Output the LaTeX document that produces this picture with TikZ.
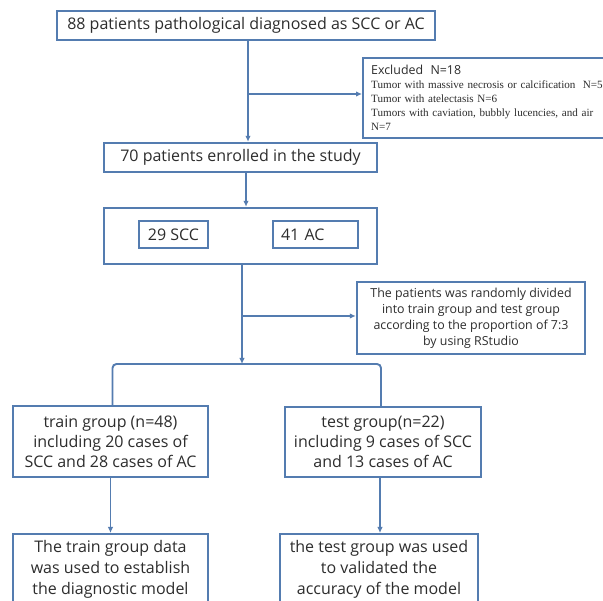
\documentclass[tikz,border=0pt]{standalone}
\usepackage{fontspec}
\setmainfont{Open Sans}
\newfontfamily\tnr{Liberation Serif}
\usetikzlibrary{arrows.meta}
\definecolor{bl}{RGB}{84,124,176}
\definecolor{tx}{RGB}{45,45,45}
\begin{document}
\begin{tikzpicture}[x=1pt,y=-1pt,
  box/.style={draw=bl, line width=2.4pt, inner sep=0pt, text=tx, align=center,
              font=\fontsize{16}{20}\selectfont},
  ibox/.style={draw=bl, line width=1.3pt, inner sep=0pt, text=tx,
              font=\fontsize{16}{20}\selectfont},
  link/.style={draw=bl, line width=1.9pt},
  arr/.style={link, -{Latex[length=6pt,width=5.5pt]}}]
\clip (0,0) rectangle (603,601);
\fill[white] (0,0) rectangle (603,601);

\node[box, minimum width=378pt, minimum height=29pt] (top) at (246,25.5)
  {88 patients pathological diagnosed as SCC or AC};

\node[box, minimum width=258pt, minimum height=80pt, anchor=north west,
      text width=242pt, inner xsep=8pt, align=left,
      font=\tnr\fontsize{11.1}{14}\selectfont] (excl) at (362,57)
  {{\rmfamily\fontsize{12.4}{14}\selectfont Excluded~~N=18}\\
   Tumor with massive necrosis or calcification~~N=5\\
   Tumor with atelectasis N=6\\
   Tumors with caviation, bubbly lucencies, and air\\
   N=7};

\node[box, minimum width=273pt, minimum height=29pt] (enrolled) at (240.5,157.5)
  {70 patients enrolled in the study};

\node[box, minimum width=273pt, minimum height=56pt] (group) at (240.5,236) {};
\node[ibox, minimum width=69pt, minimum height=27pt] (scc) at (173.5,234.5) {29 SCC};
\node[ibox, minimum width=85pt, minimum height=27pt, text width=69pt,
      inner xsep=8pt, align=left] (ac) at (315.5,234.5) {41 AC};

\node[box, minimum width=228pt, minimum height=72pt,
      font=\fontsize{12.4}{16}\selectfont] (random) at (471,318)
  {The patients was randomly divided\\
   into train group and test group\\
   according to the proportion of 7:3\\
   by using RStudio};

\node[box, minimum width=195pt, minimum height=71pt] (train) at (110.5,441.5)
  {train group (n=48)\\ including 20 cases of\\ SCC and 28 cases of AC};
\node[box, minimum width=196pt, minimum height=70pt] (test) at (383,442)
  {test group(n=22)\\ including 9 cases of SCC\\ and 13 cases of AC};

\node[box, minimum width=195pt, minimum height=70pt, anchor=north,
      font=\fontsize{16}{21}\selectfont] (model) at (110.5,533)
  {The train group data\\ was used to establish\\ the diagnostic model};
\node[box, minimum width=198pt, minimum height=70pt, anchor=north,
      font=\fontsize{16}{21}\selectfont] (valid) at (379,533)
  {the test group was used\\ to validated the\\ accuracy of the model};

% connectors
\coordinate (b1) at (248,94);
\coordinate (b2) at (242,316);
\coordinate (bk) at (242,364);
\draw[arr] ([xshift=2pt]top.south) -- ([xshift=2pt]top.south |- enrolled.north);
\draw[arr] (b1) -- (b1 -| excl.west);
\draw[arr] ([xshift=5.5pt]enrolled.south) -- ([xshift=5.5pt]group.north);
\draw[arr] (group.south -| bk) -- (bk);
\draw[arr] (b2) -- (b2 -| random.west);
\draw[link, rounded corners=4pt] ([xshift=2pt]train.north)
  -- ([xshift=2pt]train.north |- bk) -- ([xshift=-2pt]test.north |- bk)
  -- ([xshift=-2pt]test.north);
\draw[arr] (train.south) -- (model.north);
\draw[arr] ([xshift=-3pt]test.south) -- ([xshift=-3pt]test.south |- valid.north);
\end{tikzpicture}
\end{document}
